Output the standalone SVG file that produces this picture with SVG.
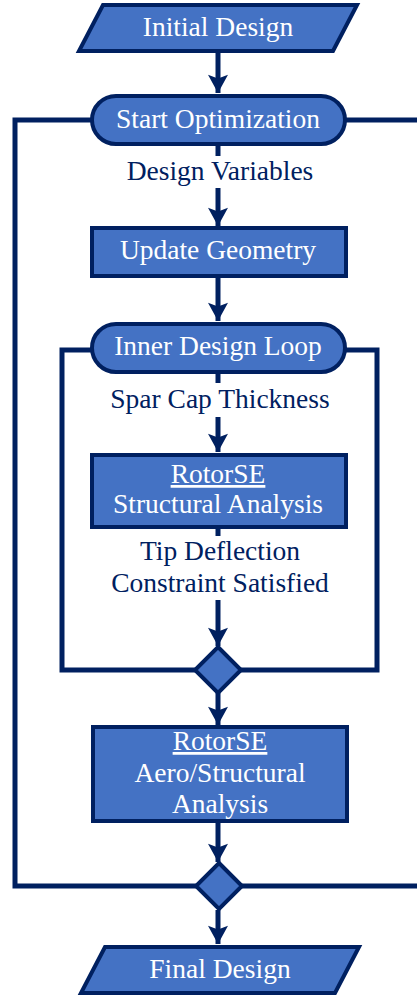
<svg xmlns="http://www.w3.org/2000/svg" width="417" height="997" viewBox="0 0 417 997">
<defs>
<style>
.node{fill:#4472C4;stroke:#002060;stroke-width:4;stroke-linejoin:miter}
.t{font-family:"Liberation Serif","Times New Roman",serif;font-size:27.5px;fill:#ffffff;text-anchor:middle}
.lbl{font-family:"Liberation Serif","Times New Roman",serif;font-size:27.5px;fill:#002060;text-anchor:middle}
.u{text-decoration:underline}
.c{fill:none;stroke:#002060;stroke-width:5}
</style>
<marker id="ah" markerUnits="userSpaceOnUse" markerWidth="22" markerHeight="20" refX="20" refY="11" viewBox="0 0 20 22" orient="auto">
<path d="M0,0 L20,11 L0,22 L4,11 Z" fill="#002060"/>
</marker>
</defs>
<g id="connectors">
<line class="c" x1="218" y1="53" x2="218" y2="93" marker-end="url(#ah)"/>
<line class="c" x1="218" y1="144" x2="218" y2="156"/>
<line class="c" x1="218" y1="188" x2="218" y2="226" marker-end="url(#ah)"/>
<line class="c" x1="218" y1="277" x2="218" y2="321" marker-end="url(#ah)"/>
<line class="c" x1="218" y1="372" x2="218" y2="383"/>
<line class="c" x1="218" y1="417" x2="218" y2="452" marker-end="url(#ah)"/>
<line class="c" x1="218" y1="528" x2="218" y2="536"/>
<line class="c" x1="218" y1="600" x2="218" y2="646" marker-end="url(#ah)"/>
<path class="c" d="M92,350 H62 V670 H196"/>
<path class="c" d="M345,350 H377 V670 H240"/>
<line class="c" x1="218" y1="693" x2="218" y2="725" marker-end="url(#ah)"/>
<line class="c" x1="218" y1="822" x2="218" y2="862" marker-end="url(#ah)"/>
<path class="c" d="M92,120 H15 V886 H196"/>
<path class="c" d="M345,120 H422"/>
<path class="c" d="M240,886 H422"/>
<line class="c" x1="218" y1="910" x2="218" y2="944" marker-end="url(#ah)"/>
</g>
<g id="initial-design">
<path class="node" d="M103,5 L357,5 L333,51 L79,51 Z"/>
<text class="t" x="218" y="36">Initial Design</text>
</g>
<g id="start-optimization">
<rect class="node" x="92" y="96" width="253" height="48" rx="24" ry="24"/>
<text class="t" x="218" y="128">Start Optimization</text>
</g>
<g id="design-variables">
<text class="lbl" x="220" y="180">Design Variables</text>
</g>
<g id="update-geometry">
<rect class="node" x="92" y="228" width="254" height="48"/>
<text class="t" x="218" y="259">Update Geometry</text>
</g>
<g id="inner-design-loop">
<rect class="node" x="92" y="324" width="253" height="48" rx="24" ry="24"/>
<text class="t" x="218" y="355">Inner Design Loop</text>
</g>
<g id="spar-cap-thickness">
<text class="lbl" x="220" y="408">Spar Cap Thickness</text>
</g>
<g id="rotorse-structural">
<rect class="node" x="92" y="455" width="254" height="72"/>
<text class="t" x="218" y="483"><tspan class="u">RotorSE</tspan></text>
<text class="t" x="218" y="513">Structural Analysis</text>
</g>
<g id="tip-deflection">
<text class="lbl" x="220" y="560">Tip Deflection</text>
<text class="lbl" x="220" y="592">Constraint Satisfied</text>
</g>
<g id="inner-decision">
<path class="node" d="M218,647 L241,670 L218,693 L195,670 Z"/>
</g>
<g id="rotorse-aero">
<rect class="node" x="93" y="727" width="254" height="94"/>
<text class="t" x="220" y="750"><tspan class="u">RotorSE</tspan></text>
<text class="t" x="220" y="782">Aero/Structural</text>
<text class="t" x="220" y="813">Analysis</text>
</g>
<g id="outer-decision">
<path class="node" d="M219,863 L242,886 L219,909 L196,886 Z"/>
</g>
<g id="final-design">
<path class="node" d="M105,947 L359,947 L335,993 L81,993 Z"/>
<text class="t" x="220" y="978">Final Design</text>
</g>
</svg>
